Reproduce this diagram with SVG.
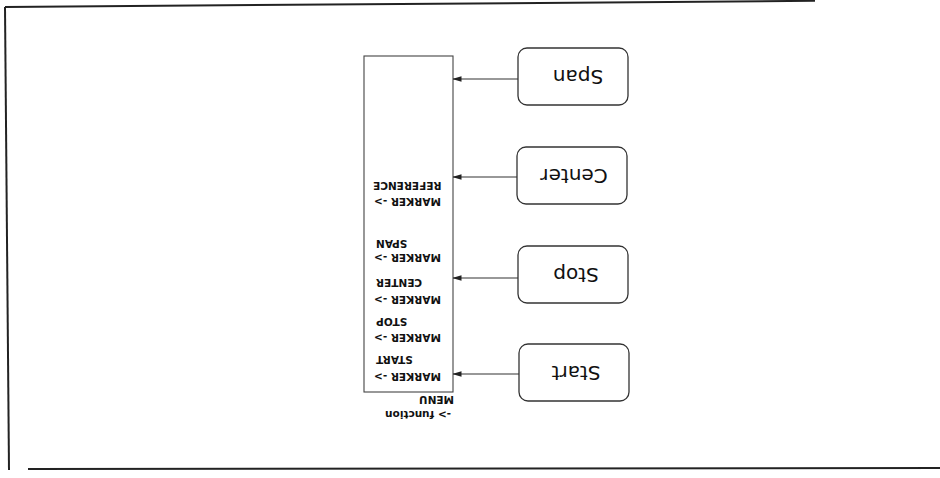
<svg xmlns="http://www.w3.org/2000/svg" width="940" height="478" viewBox="0 0 940 478">
<style>
.frame{stroke:#222;stroke-width:2;fill:none}
.box{fill:#fff;stroke:#333;stroke-width:1.3}
.menu{fill:#fff;stroke:#444;stroke-width:1.1}
.lbl{font-family:"DejaVu Sans",Verdana,sans-serif;font-size:20px;fill:#111;text-anchor:middle}
.small{font-family:"DejaVu Sans",Verdana,sans-serif;font-size:10.5px;font-weight:bold;fill:#111}
.conn{stroke:#333;stroke-width:1.2;fill:none}
</style>
<defs>
<marker id="ah" markerWidth="9" markerHeight="7" refX="8.5" refY="3.5" orient="auto" markerUnits="userSpaceOnUse">
<path d="M0,0.8 L9,3.5 L0,6.2 Z" fill="#222"/>
</marker>
</defs>
<rect width="940" height="478" fill="#fff"/>
<g id="frame">
<line class="frame" x1="5" y1="7" x2="815" y2="0.8"/>
<line class="frame" x1="5" y1="7" x2="9" y2="470"/>
<line class="frame" x1="28" y1="469" x2="940" y2="468"/>
</g>
<g transform="rotate(180 470 239)">
<g id="menu">
<rect class="menu" x="487" y="86" width="89" height="336"/>
<text class="small" x="489" y="67">-&gt; function</text>
<text class="small" x="486" y="82">MENU</text>
<text class="small" x="566" y="105" text-anchor="end">MARKER -&gt;</text>
<text class="small" x="564" y="122" text-anchor="end">START</text>
<text class="small" x="566" y="144" text-anchor="end">MARKER -&gt;</text>
<text class="small" x="564" y="160" text-anchor="end">STOP</text>
<text class="small" x="566" y="182" text-anchor="end">MARKER -&gt;</text>
<text class="small" x="564" y="199" text-anchor="end">CENTER</text>
<text class="small" x="566" y="224" text-anchor="end">MARKER -&gt;</text>
<text class="small" x="564" y="238" text-anchor="end">SPAN</text>
<text class="small" x="566" y="280" text-anchor="end">MARKER -&gt;</text>
<text class="small" x="567" y="296" text-anchor="end">REFERENCE</text>
</g>
<g id="start">
<rect class="box" x="311" y="77" width="110" height="57" rx="9"/>
<text class="lbl" x="364" y="112">Start</text>
</g>
<g id="stop">
<rect class="box" x="312" y="175" width="110" height="57" rx="9"/>
<text class="lbl" x="364" y="210">Stop</text>
</g>
<g id="center">
<rect class="box" x="313" y="274" width="110" height="57" rx="9"/>
<text class="lbl" x="366" y="309">Center</text>
</g>
<g id="span">
<rect class="box" x="312" y="373" width="110" height="57" rx="9"/>
<text class="lbl" x="362" y="408">Span</text>
</g>
<g id="connectors">
<line class="conn" x1="421" y1="104" x2="487" y2="104" marker-end="url(#ah)"/>
<line class="conn" x1="422" y1="200" x2="487" y2="200" marker-end="url(#ah)"/>
<line class="conn" x1="423" y1="301" x2="487" y2="301" marker-end="url(#ah)"/>
<line class="conn" x1="422" y1="399" x2="487" y2="399" marker-end="url(#ah)"/>
</g>
</g>
</svg>
